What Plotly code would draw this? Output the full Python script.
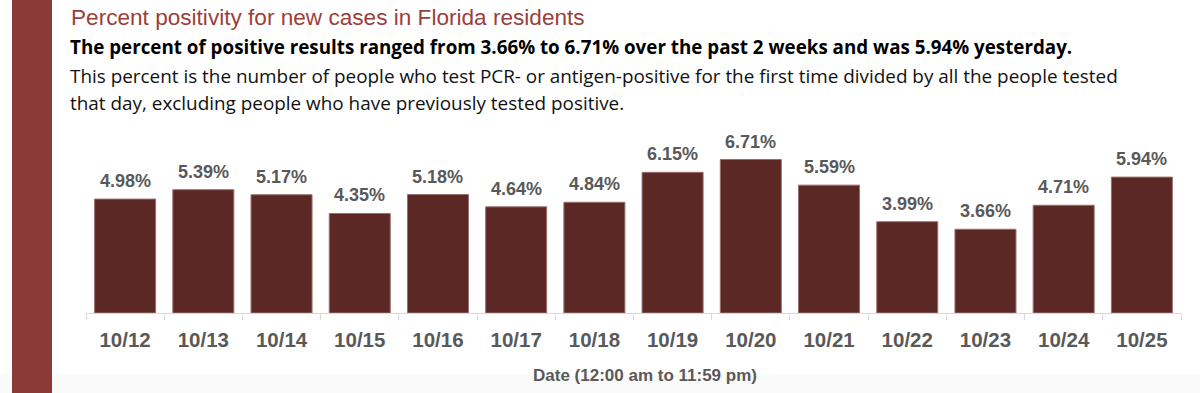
import plotly.graph_objects as go

dates = ["10/12", "10/13", "10/14", "10/15", "10/16", "10/17", "10/18",
         "10/19", "10/20", "10/21", "10/22", "10/23", "10/24", "10/25"]
positivity = [4.98, 5.39, 5.17, 4.35, 5.18, 4.64, 4.84,
              6.15, 6.71, 5.59, 3.99, 3.66, 4.71, 5.94]

title_text = "Percent positivity for new cases in Florida residents"
subtitle_text = ("The percent of positive results ranged from 3.66% to 6.71% "
                 "over the past 2 weeks and was 5.94% yesterday.")
desc_line1 = ("This percent is the number of people who test PCR- or antigen-positive "
              "for the first time divided by all the people tested")
desc_line2 = "that day, excluding people who have previously tested positive."
xaxis_title = "Date (12:00 am to 11:59 pm)"

W, H = 1200, 393
ML, MR, MT, MB = 86, 19, 130, 80
PW = W - ML - MR
PH = H - MT - MB


def px(x):
    return (x - ML) / PW


def py(y):
    return (H - MB - y) / PH


BAR = "#5c2825"
GRAY = "#595959"
SANS = "Liberation Sans, Arial, sans-serif"
WIDE = "Open Sans, Liberation Sans, sans-serif"

fig = go.Figure()
fig.add_trace(go.Bar(
    x=dates, y=positivity,
    marker=dict(color=BAR, line=dict(color="#9a6e6b", width=1)),
    width=0.78,
    hoverinfo="x+y",
))

annotations = []
for d, v in zip(dates, positivity):
    annotations.append(dict(
        x=d, y=v, xref="x", yref="y", text=f"{v:.2f}%", showarrow=False,
        yanchor="bottom", yshift=6,
        font=dict(family=SANS, size=18, color=GRAY, weight="bold"),
    ))

annotations += [
    dict(x=px(69), y=py(17), xref="paper", yref="paper", xanchor="left", yanchor="middle",
         text=title_text, showarrow=False,
         font=dict(family=SANS, size=22.6, color="#9b3f3b")),
    dict(x=px(68), y=py(47), xref="paper", yref="paper", xanchor="left", yanchor="middle",
         text=f"<b>{subtitle_text}</b>", showarrow=False,
         font=dict(family=WIDE, size=18.8, color="#000000")),
    dict(x=px(68), y=py(76), xref="paper", yref="paper", xanchor="left", yanchor="middle",
         text=desc_line1, showarrow=False,
         font=dict(family=WIDE, size=18.9, color="#111111")),
    dict(x=px(68), y=py(103), xref="paper", yref="paper", xanchor="left", yanchor="middle",
         text=desc_line2, showarrow=False,
         font=dict(family=WIDE, size=18.9, color="#111111")),
    dict(x=px(645), y=py(375), xref="paper", yref="paper", xanchor="center", yanchor="middle",
         text=f"<b>{xaxis_title}</b>", showarrow=False,
         font=dict(family=SANS, size=17, color=GRAY)),
]

shapes = [
    dict(type="rect", xref="paper", yref="paper",
         x0=px(0), x1=px(W), y0=py(H), y1=py(375),
         fillcolor="#fafafa", line=dict(width=0), layer="below"),
    dict(type="rect", xref="paper", yref="paper",
         x0=px(12), x1=px(52), y0=py(H), y1=py(0),
         fillcolor="#8b3a38", line=dict(width=0), layer="below"),
]

fig.update_layout(
    width=W, height=H,
    margin=dict(l=ML, r=MR, t=MT, b=MB, pad=0),
    paper_bgcolor="white", plot_bgcolor="white",
    showlegend=False,
    annotations=annotations,
    shapes=shapes,
    bargap=0.22,
    xaxis=dict(
        type="category",
        showline=True, linecolor="#d9d9d9", linewidth=1,
        ticks="outside", tickson="boundaries", ticklen=6, tickcolor="#d9d9d9",
        ticklabelstandoff=8,
        showgrid=False, zeroline=False,
        tickfont=dict(family=SANS, size=20.5, color=GRAY, weight="bold"),
    ),
    yaxis=dict(
        range=[0, 8], visible=False, showgrid=False, zeroline=False,
    ),
)

fig.write_html("out.html",
               config={"displayModeBar": False},
               post_script="document.body.style.margin='0';document.body.style.overflow='hidden';")
